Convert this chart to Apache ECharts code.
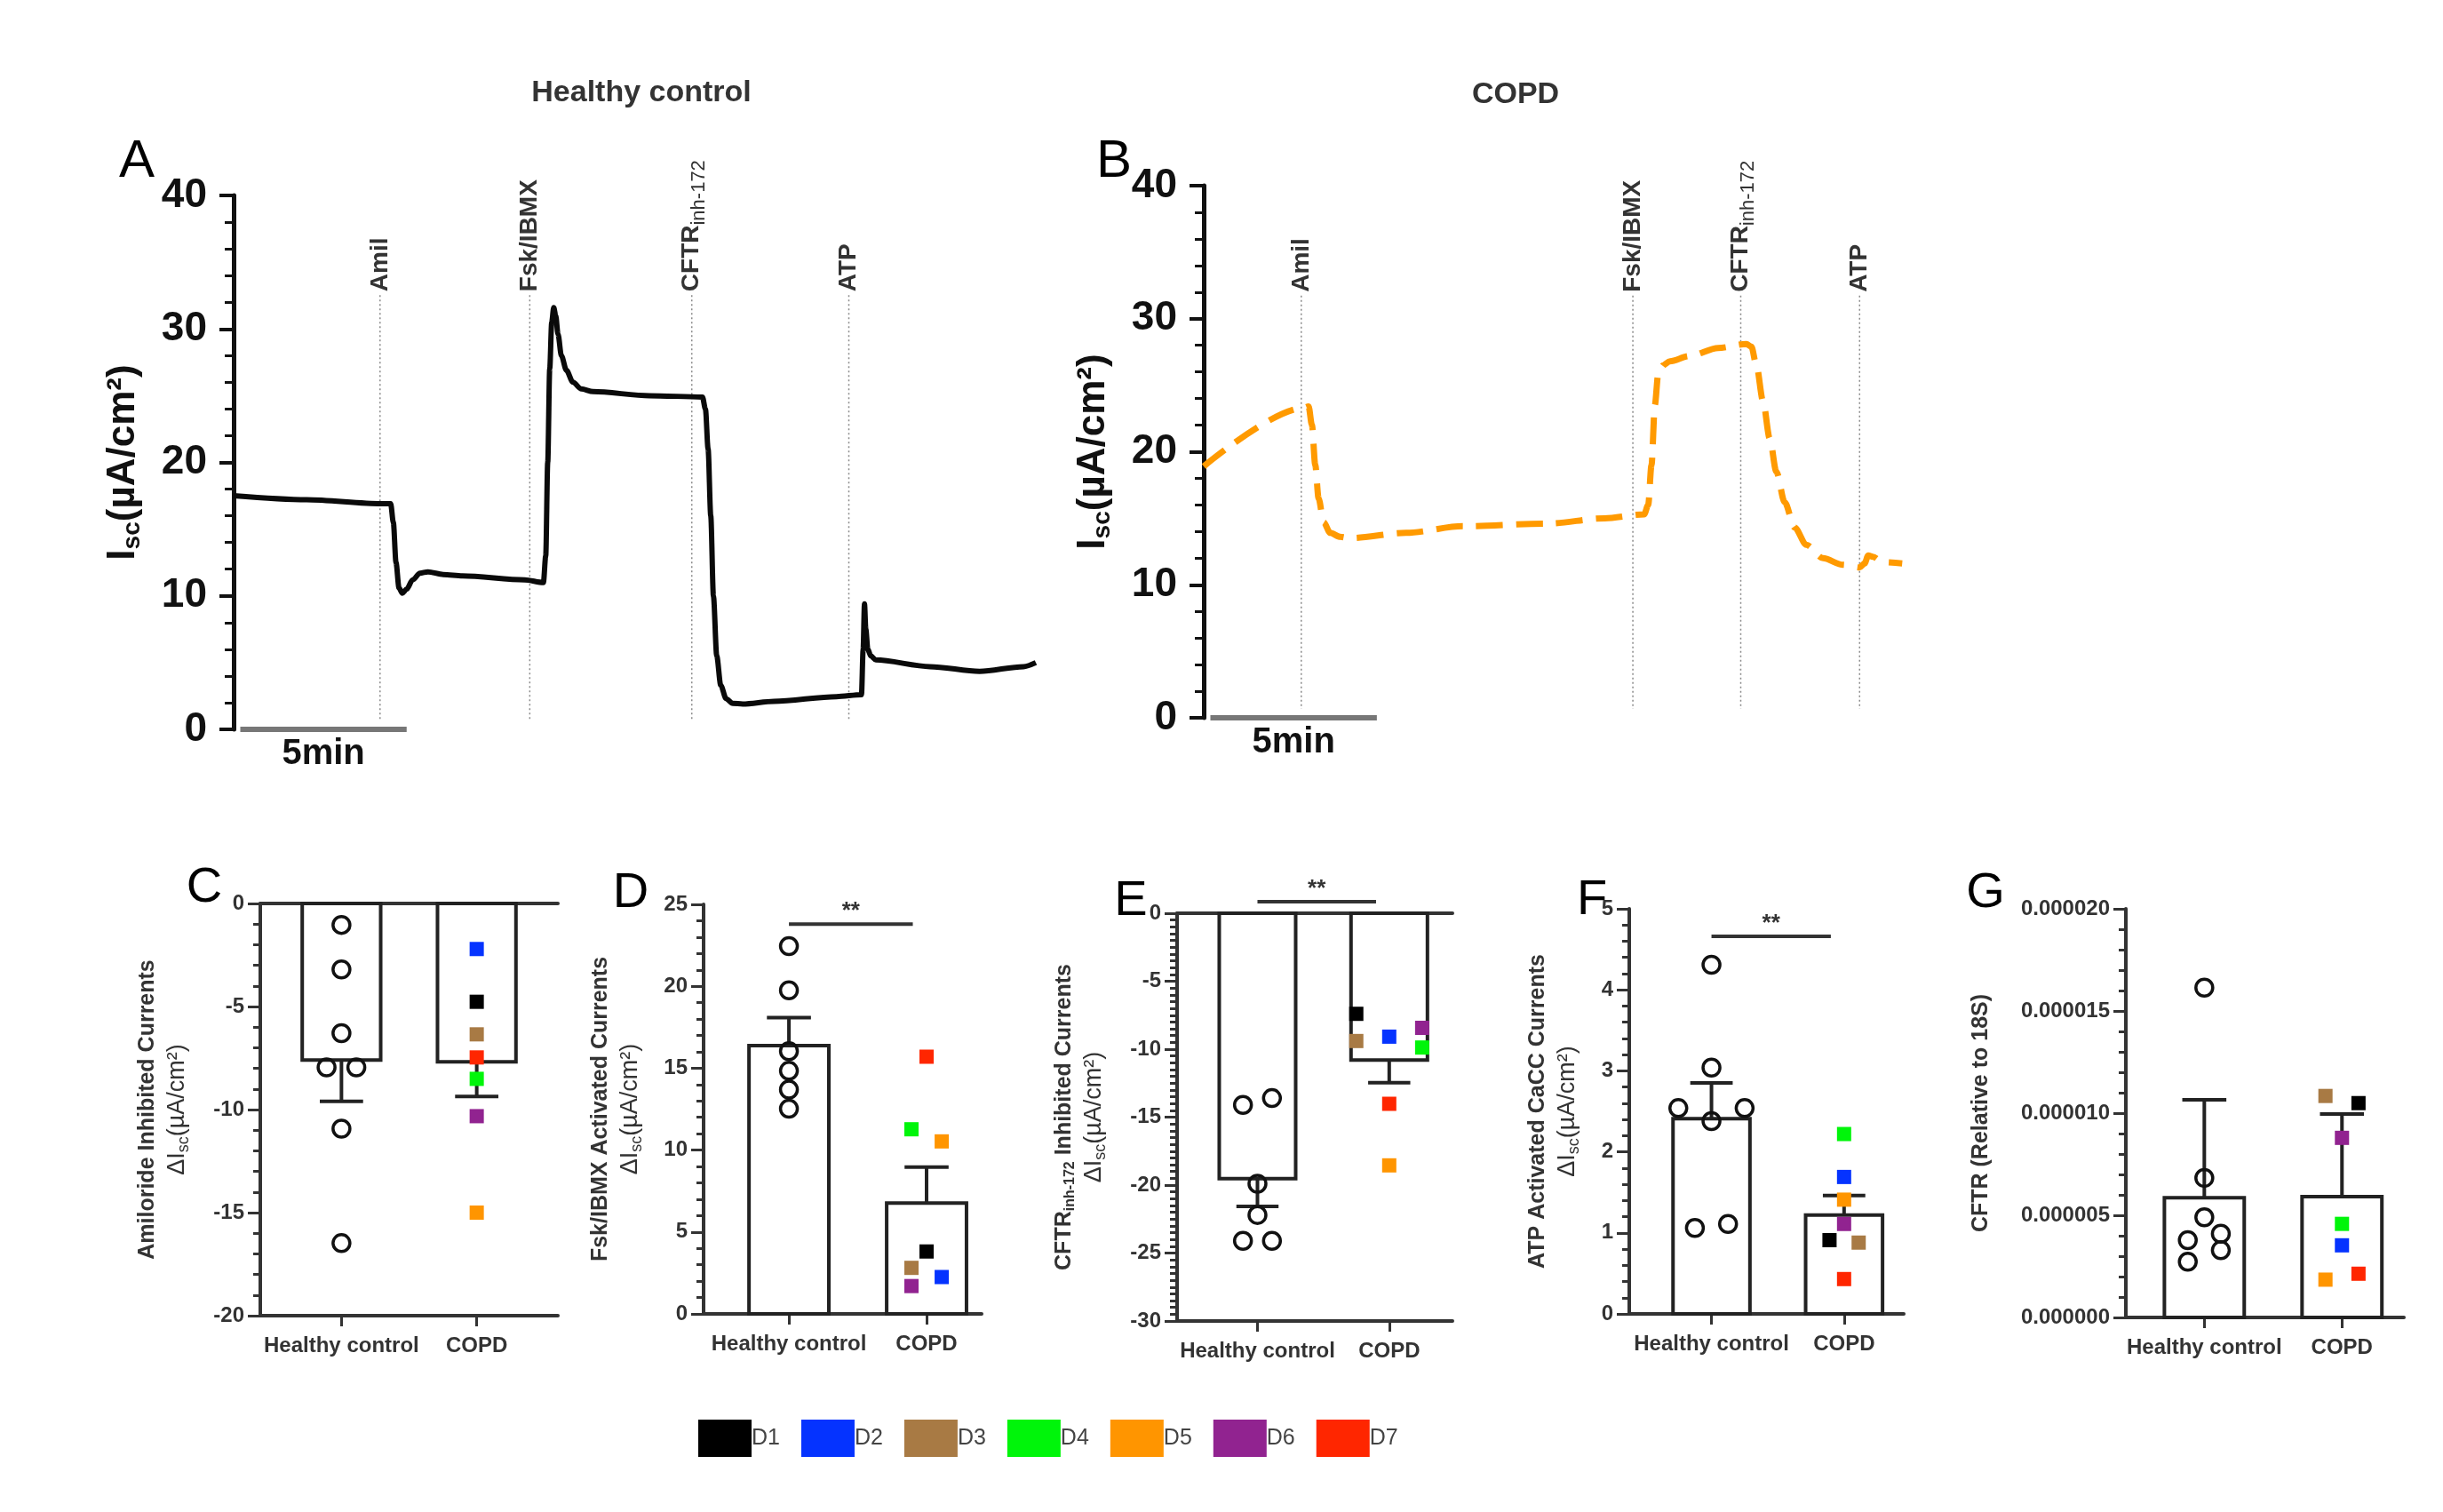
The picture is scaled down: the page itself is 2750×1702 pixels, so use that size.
<!DOCTYPE html>
<html lang="en">
<head>
<meta charset="UTF-8">
<title>Isc traces and summary, healthy vs COPD</title>
<script src="https://cdn.jsdelivr.net/npm/echarts@6/dist/echarts.min.js"></script>
<style>
  html, body { margin: 0; padding: 0; background: #fff; }
  #main { width: 2750px; height: 1702px; }
</style>
</head>
<body>
<div id="main"></div>
<script>
// ---- traces: time (min) and Isc (uA/cm2)
var healthyTraceTime = [0, 2.19, 4.44, 4.72, 4.80, 4.88, 4.97, 5.07, 5.2, 5.38, 5.6, 5.84, 6.3, 6.88, 8.75, 9.31, 9.38, 9.44, 9.5, 9.56, 9.62, 9.68, 9.75, 9.85, 10.0, 10.2, 10.45, 10.8, 12.5, 14.09, 14.18, 14.26, 14.34, 14.42, 14.52, 14.64, 14.8, 15.0, 15.3, 16.24, 18.12, 18.87, 18.92, 18.96, 19.0, 19.06, 19.15, 19.3, 20.93, 22.42, 23.74, 24.11];
var healthyTraceIsc = [17.5, 17.2, 16.9, 16.9, 15.5, 12.5, 10.6, 10.2, 10.5, 11.2, 11.7, 11.8, 11.6, 11.5, 11.2, 11.0, 13.0, 20.0, 27.0, 30.5, 31.6, 31.0, 29.6, 28.0, 26.9, 26.0, 25.5, 25.3, 25.0, 24.9, 24.0, 21.0, 16.0, 10.0, 5.5, 3.3, 2.3, 1.95, 1.9, 2.1, 2.45, 2.6, 6.0, 9.4, 7.5, 6.0, 5.5, 5.2, 4.7, 4.35, 4.7, 5.0];
var copdTraceTime = [0, 3.01, 3.15, 3.25, 3.35, 3.45, 3.6, 3.8, 4.1, 4.38, 6.08, 7.78, 10.34, 12.04, 13.23, 13.35, 13.45, 13.55, 13.65, 13.8, 14.0, 14.59, 15.45, 16.3, 16.45, 16.6, 16.8, 17.0, 17.2, 17.45, 17.75, 18.1, 18.6, 19.2, 19.7, 19.85, 19.96, 20.1, 20.38, 20.98];
var copdTraceIsc = [18.9, 23.3, 23.4, 22.0, 19.0, 16.5, 14.7, 13.9, 13.6, 13.5, 13.9, 14.4, 14.6, 15.0, 15.3, 16.0, 19.0, 23.5, 25.8, 26.5, 26.8, 27.2, 27.8, 28.1, 27.9, 26.5, 23.8, 21.0, 18.5, 16.2, 14.3, 13.0, 12.0, 11.5, 11.3, 11.6, 12.2, 12.1, 11.7, 11.6];

// drug additions (min)
var eventNames = ['Amil', 'Fsk/IBMX', 'CFTR', 'ATP'];
var eventSubs = ['', '', 'inh-172', ''];
var healthyEvents = [4.40, 8.90, 13.77, 18.49];
var copdEvents = [2.93, 12.89, 16.13, 19.70];
var scaleBarStart = 0.2;
var scaleBarMinutes = 5;

// ---- summary panels
var groups = ['Healthy control', 'COPD'];
var donors = ['D1', 'D2', 'D3', 'D4', 'D5', 'D6', 'D7'];
var donorColors = ['#000000', '#0533ff', '#a87a44', '#00f50a', '#ff9500', '#912390', '#ff2600'];

// C amiloride inhibited
var amilMean = [-7.6, -7.68];
var amilSem = [2.0, 1.68];
var amilHealthy = [-1.04, -3.2, -6.29, -7.95, -7.95, -10.93, -16.48];
var amilHealthyJitter = [0, 0, 0, -0.11, 0.11, 0, 0];
var amilCopd = [-4.77, -2.21, -6.35, -8.51, -15.0, -10.32, -7.47];
var amilCopdJitter = [0, 0, 0, 0, 0, 0, 0];

// D forskolin/IBMX activated
var fskMean = [16.38, 6.76];
var fskSem = [1.7, 2.2];
var fskHealthy = [22.45, 19.75, 16.04, 14.84, 13.69, 12.53];
var fskHealthyJitter = [0, 0, 0, 0, 0, 0];
var fskCopd = [3.81, 2.25, 2.81, 11.27, 10.53, 1.70, 15.7];
var fskCopdJitter = [0, 0.11, -0.11, -0.11, 0.11, -0.11, 0];

// E CFTRinh-172 inhibited
var inhMean = [-19.52, -10.8];
var inhSem = [2.05, 1.66];
var inhHealthy = [-14.1, -13.6, -19.9, -22.2, -24.1, -24.1];
var inhHealthyJitter = [-0.11, 0.11, 0, 0, -0.11, 0.11];
var inhCopd = [-7.4, -9.08, -9.4, -9.88, -18.55, -8.43, -14.02];
var inhCopdJitter = [-0.25, 0, -0.25, 0.25, 0, 0.25, 0];

// F ATP activated CaCC
var atpMean = [2.41, 1.22];
var atpSem = [0.44, 0.24];
var atpHealthy = [4.31, 3.04, 2.54, 2.54, 2.38, 1.06, 1.11];
var atpHealthyJitter = [0, 0, -0.25, 0.25, 0, -0.125, 0.125];
var atpCopd = [0.91, 1.69, 0.88, 2.22, 1.41, 1.11, 0.43];
var atpCopdJitter = [-0.11, 0, 0.11, 0, 0, 0, 0];

// G CFTR mRNA relative to 18S
var cftrMean = [0.00000586, 0.00000591];
var cftrErr = [0.00000479, 0.00000405];
var cftrHealthy = [0.00001614, 0.00000683, 0.0000049, 0.00000378, 0.0000041, 0.00000329, 0.00000273];
var cftrHealthyJitter = [0, 0, 0, -0.12, 0.12, 0.12, -0.12];
var cftrCopd = [0.00001049, 0.00000353, 0.00001084, 0.00000458, 0.00000185, 0.00000879, 0.00000214];
var cftrCopdJitter = [0.12, 0, -0.12, 0, -0.12, 0, 0.12];

var FONT = '"Liberation Sans", Arial, Helvetica, sans-serif';
var INK = '#222';
var GREY = '#333';
var BAR_W = 0.58, CAP_W = 0.32;

var chart = echarts.init(document.getElementById('main'));
var grids = [], xAxes = [], yAxes = [], series = [];

var deltaIsc = '{u|ΔI}{us|sc}{u|(µA/cm²)}';
var nameRich = {
    t: { fontFamily: FONT, fontSize: 25, fontWeight: 'bold', color: GREY, lineHeight: 34 },
    ts: { fontFamily: FONT, fontSize: 16, fontWeight: 'bold', color: GREY, padding: [14, 0, 0, 0] },
    u: { fontFamily: FONT, fontSize: 27, color: GREY, lineHeight: 34 },
    us: { fontFamily: FONT, fontSize: 18, color: GREY, padding: [14, 0, 0, 0] }
};

function tracePanel(box, xMax, time, isc, lineStyle, events, labelBase) {
    var gi = grids.length;
    grids.push(box);
    var xi = xAxes.length;
    xAxes.push({ gridIndex: gi, type: 'value', min: 0, max: xMax, show: false });
    var yi = yAxes.length;
    yAxes.push({
        gridIndex: gi, type: 'value', min: 0, max: 40, interval: 10,
        axisLine: { show: true, onZero: false, lineStyle: { color: '#111', width: 5 } },
        axisTick: { show: true, length: 16, lineStyle: { color: '#111', width: 4 } },
        minorTick: { show: true, splitNumber: 5, length: 10, lineStyle: { color: '#111', width: 3 } },
        splitLine: { show: false },
        axisLabel: { fontFamily: FONT, fontSize: 46, fontWeight: 'bold', color: '#111', margin: 30 },
        name: '{i|I}{s|sc}{i|(µA/cm²)}', nameLocation: 'middle', nameRotate: 90, nameGap: 100,
        nameTextStyle: {
            rich: {
                i: { fontFamily: FONT, fontSize: 44, fontWeight: 'bold', color: '#111' },
                s: { fontFamily: FONT, fontSize: 28, fontWeight: 'bold', color: '#111', padding: [20, 0, 0, 0] }
            }
        }
    });
    series.push({
        type: 'line', xAxisIndex: xi, yAxisIndex: yi, silent: true, z: 4,
        data: time.map(function (t, k) { return [t, isc[k]]; }),
        showSymbol: false, smooth: 0.3, smoothMonotone: 'x', lineStyle: lineStyle
    });
    // dotted drug-addition markers with rotated labels
    series.push({
        type: 'custom', xAxisIndex: xi, yAxisIndex: yi, silent: true, z: 2,
        data: events.map(function (t, k) { return [t, k]; }),
        renderItem: function (params, api) {
            var k = api.value(1);
            var top = api.coord([api.value(0), labelBase]);
            var bottom = api.coord([api.value(0), 0]);
            var label = '{b|' + eventNames[k] + '}' + (eventSubs[k] ? '{sb|' + eventSubs[k] + '}' : '');
            return {
                type: 'group', children: [
                    { type: 'line', shape: { x1: top[0], y1: top[1] + 4, x2: bottom[0], y2: bottom[1] - 10 },
                      style: { stroke: '#8a8a8a', lineWidth: 1.5, lineDash: [2, 3] } },
                    { type: 'text', x: top[0], y: top[1], rotation: Math.PI / 2,
                      style: { text: label, align: 'left', verticalAlign: 'middle',
                               rich: { b: { fontFamily: FONT, fontSize: 28, fontWeight: 'bold', fill: GREY },
                                       sb: { fontFamily: FONT, fontSize: 22, fill: GREY, padding: [16, 0, 0, 0] } } } }
                ]
            };
        }
    });
    // time scale bar
    series.push({
        type: 'custom', xAxisIndex: xi, yAxisIndex: yi, silent: true, z: 3,
        data: [[scaleBarStart, scaleBarStart + scaleBarMinutes]],
        renderItem: function (params, api) {
            var a = api.coord([api.value(0), 0]);
            var b = api.coord([api.value(1), 0]);
            return {
                type: 'group', children: [
                    { type: 'line', shape: { x1: a[0], y1: a[1], x2: b[0], y2: b[1] }, style: { stroke: '#777', lineWidth: 6 } },
                    { type: 'text', x: (a[0] + b[0]) / 2, y: a[1] + 8,
                      style: { text: scaleBarMinutes + 'min', align: 'center', verticalAlign: 'top',
                               fontFamily: FONT, fontSize: 40, fontWeight: 'bold', fill: '#111' } }
                ]
            };
        }
    });
}

function summaryPanel(p) {
    var gi = grids.length;
    grids.push(p.box);
    var xi = xAxes.length;
    xAxes.push({
        gridIndex: gi, type: 'value', min: p.xMin, max: p.xMax, position: 'bottom',
        axisLine: { show: true, onZero: false, lineStyle: { color: GREY, width: 4 } },
        axisTick: { show: true, customValues: [0, 1], length: 12, lineStyle: { color: GREY, width: 3 } },
        axisLabel: { customValues: [0, 1], formatter: function (v) { return groups[Math.round(v)]; },
                     fontFamily: FONT, fontSize: 24, fontWeight: 'bold', color: GREY, margin: 22 },
        splitLine: { show: false }
    });
    if (p.topLine) {
        xAxes.push({
            gridIndex: gi, type: 'value', min: p.xMin, max: p.xMax, position: 'top',
            axisLine: { show: true, onZero: false, lineStyle: { color: GREY, width: 4 } },
            axisTick: { show: false }, axisLabel: { show: false }, splitLine: { show: false }
        });
    }
    var yi = yAxes.length;
    yAxes.push({
        gridIndex: gi, type: 'value', min: p.min, max: p.max, interval: p.interval,
        axisLine: { show: true, onZero: false, lineStyle: { color: GREY, width: 4 } },
        axisTick: { show: true, length: 14, lineStyle: { color: GREY, width: 3 } },
        minorTick: { show: true, splitNumber: p.minor, length: 8, lineStyle: { color: GREY, width: 3 } },
        splitLine: { show: false },
        axisLabel: { fontFamily: FONT, fontSize: 24, fontWeight: 'bold', color: GREY, margin: 18,
                     formatter: p.format || null },
        name: p.name, nameLocation: 'middle', nameRotate: 90, nameGap: p.nameGap,
        nameTextStyle: { rich: nameRich }
    });
    // bars with one-sided error bars
    series.push({
        type: 'custom', xAxisIndex: xi, yAxisIndex: yi, silent: true, z: 2,
        data: groups.map(function (g, j) { return [j, p.mean[j], p.err[j]]; }),
        renderItem: function (params, api) {
            var j = api.value(0), m = api.value(1), e = api.value(2);
            var tip = m < 0 ? m - e : m + e;
            var a = api.coord([j - BAR_W / 2, 0]);
            var b = api.coord([j + BAR_W / 2, m]);
            var c = api.coord([j, m]);
            var t = api.coord([j, tip]);
            var l = api.coord([j - CAP_W / 2, tip]);
            var r = api.coord([j + CAP_W / 2, tip]);
            var st = { stroke: INK, lineWidth: 4 };
            return {
                type: 'group', children: [
                    { type: 'rect', shape: { x: Math.min(a[0], b[0]), y: Math.min(a[1], b[1]),
                                             width: Math.abs(b[0] - a[0]), height: Math.abs(b[1] - a[1]) },
                      style: { fill: '#fff', stroke: INK, lineWidth: 4 } },
                    { type: 'line', shape: { x1: c[0], y1: c[1], x2: t[0], y2: t[1] }, style: st },
                    { type: 'line', shape: { x1: l[0], y1: l[1], x2: r[0], y2: r[1] }, style: st }
                ]
            };
        }
    });
    series.push({
        type: 'scatter', xAxisIndex: xi, yAxisIndex: yi, silent: true, z: 4,
        data: p.healthy.map(function (v, k) { return [p.healthyJitter[k], v]; }),
        symbol: 'circle', symbolSize: 19,
        itemStyle: { color: 'rgba(0,0,0,0)', borderColor: '#111', borderWidth: 3.5, opacity: 1 }
    });
    donors.forEach(function (d, k) {
        series.push({
            name: d, type: 'scatter', xAxisIndex: xi, yAxisIndex: yi, silent: true, z: 5,
            data: [[1 + p.copdJitter[k], p.copd[k]]],
            symbol: 'rect', symbolSize: 16, itemStyle: { color: donorColors[k], opacity: 1 }
        });
    });
    if (p.sig !== null) {
        series.push({
            type: 'custom', xAxisIndex: xi, yAxisIndex: yi, silent: true, z: 6,
            data: [[0, 0.9, p.sig]],
            renderItem: function (params, api) {
                var a = api.coord([api.value(0), api.value(2)]);
                var b = api.coord([api.value(1), api.value(2)]);
                return {
                    type: 'group', children: [
                        { type: 'line', shape: { x1: a[0], y1: a[1], x2: b[0], y2: b[1] }, style: { stroke: GREY, lineWidth: 4 } },
                        { type: 'text', x: (a[0] + b[0]) / 2, y: a[1] - 1,
                          style: { text: '**', align: 'center', verticalAlign: 'bottom',
                                   fontFamily: FONT, fontSize: 26, fontWeight: 'bold', fill: GREY } }
                    ]
                };
            }
        });
    }
}

tracePanel({ left: 263, top: 220, width: 903, height: 601 }, 24.11, healthyTraceTime, healthyTraceIsc,
    { color: '#0a0a0a', width: 6 }, healthyEvents, 32.8);
tracePanel({ left: 1355, top: 209, width: 787, height: 599 }, 21.0, copdTraceTime, copdTraceIsc,
    { color: '#ff9a00', width: 7, type: [30, 15] }, copdEvents, 32.0);

summaryPanel({ box: { left: 293, top: 1017, width: 335, height: 464 }, xMin: -0.6, xMax: 1.6,
    min: -20, max: 0, interval: 5, minor: 5, topLine: true, sig: null,
    mean: amilMean, err: amilSem, healthy: amilHealthy, healthyJitter: amilHealthyJitter,
    copd: amilCopd, copdJitter: amilCopdJitter, nameGap: 76,
    name: '{t|Amiloride Inhibited Currents}\n' + deltaIsc });
summaryPanel({ box: { left: 792, top: 1018, width: 313, height: 461 }, xMin: -0.62, xMax: 1.4,
    min: 0, max: 25, interval: 5, minor: 5, topLine: false, sig: 23.8,
    mean: fskMean, err: fskSem, healthy: fskHealthy, healthyJitter: fskHealthyJitter,
    copd: fskCopd, copdJitter: fskCopdJitter, nameGap: 65,
    name: '{t|Fsk/IBMX Activated Currents}\n' + deltaIsc });
summaryPanel({ box: { left: 1325, top: 1028, width: 310, height: 459 }, xMin: -0.61, xMax: 1.48,
    min: -30, max: 0, interval: 5, minor: 10, topLine: true, sig: 0.85,
    mean: inhMean, err: inhSem, healthy: inhHealthy, healthyJitter: inhHealthyJitter,
    copd: inhCopd, copdJitter: inhCopdJitter, nameGap: 76,
    name: '{t|CFTR}{ts|inh-172}{t| Inhibited Currents}\n' + deltaIsc });
summaryPanel({ box: { left: 1834, top: 1023, width: 309, height: 456 }, xMin: -0.62, xMax: 1.45,
    min: 0, max: 5, interval: 1, minor: 5, topLine: false, sig: 4.66,
    mean: atpMean, err: atpSem, healthy: atpHealthy, healthyJitter: atpHealthyJitter,
    copd: atpCopd, copdJitter: atpCopdJitter, nameGap: 52,
    name: '{t|ATP Activated CaCC Currents}\n' + deltaIsc });
summaryPanel({ box: { left: 2393, top: 1023, width: 313, height: 460 }, xMin: -0.57, xMax: 1.45,
    min: 0, max: 0.00002, interval: 0.000005, minor: 5, topLine: false, sig: null,
    mean: cftrMean, err: cftrErr, healthy: cftrHealthy, healthyJitter: cftrHealthyJitter,
    copd: cftrCopd, copdJitter: cftrCopdJitter, nameGap: 146,
    format: function (v) { return v.toFixed(6); },
    name: '{t|CFTR (Relative to 18S)}' });

function txt(x, y, s, font, fill) {
    return { type: 'text', x: x, y: y, silent: true,
             style: { text: s, font: font, fill: fill, align: 'center', verticalAlign: 'middle' } };
}
var titleFont = 'bold 34px ' + FONT;
var letterFont = '56px ' + FONT;

chart.setOption({
    animation: false,
    backgroundColor: '#fff',
    grid: grids,
    xAxis: xAxes,
    yAxis: yAxes,
    series: series,
    legend: {
        data: donors, left: 781, top: 1593, itemWidth: 60, itemHeight: 42, itemGap: 24,
        icon: 'rect', selectedMode: false,
        textStyle: { fontFamily: FONT, fontSize: 25, color: '#444', padding: [0, 0, 0, -5] }
    },
    graphic: [
        txt(722, 105, 'Healthy control', titleFont, '#333'),
        txt(1706, 107, 'COPD', titleFont, '#333'),
        txt(154, 182, 'A', '60px ' + FONT, '#000'),
        txt(1254, 182, 'B', '60px ' + FONT, '#000'),
        txt(230, 1000, 'C', letterFont, '#000'),
        txt(710, 1006, 'D', letterFont, '#000'),
        txt(1273, 1015, 'E', letterFont, '#000'),
        txt(1792, 1014, 'F', letterFont, '#000'),
        txt(2235, 1006, 'G', letterFont, '#000')
    ]
});
</script>
</body>
</html>
